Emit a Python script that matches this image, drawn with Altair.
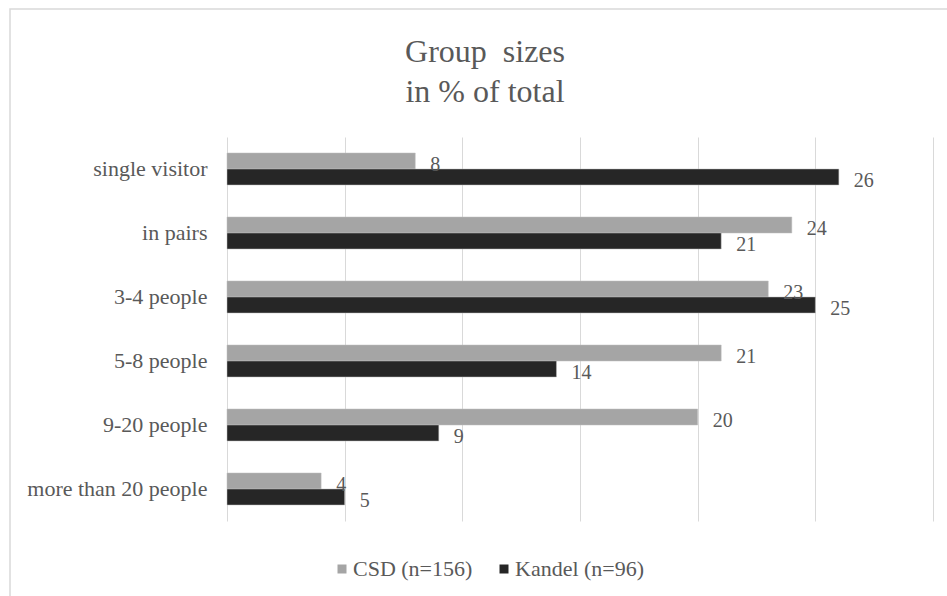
import altair as alt
import pandas as pd

categories = ["single visitor", "in pairs", "3-4 people", "5-8 people", "9-20 people", "more than 20 people"]
csd_values = [8, 24, 23, 21, 20, 4]
kandel_values = [26, 21, 25, 14, 9, 5]
series_names = ["CSD (n=156)", "Kandel (n=96)"]
series_colors = ["#a5a5a5", "#262626"]
x_ticks = [0, 5, 10, 15, 20, 25, 30]

rows = []
for c, v in zip(categories, csd_values):
    rows.append({"category": c, "series": series_names[0], "value": v})
for c, v in zip(categories, kandel_values):
    rows.append({"category": c, "series": series_names[1], "value": v})
df = pd.DataFrame(rows)

FONT = "'Liberation Serif', 'Times New Roman', Times, serif"
TXT = "#595959"

y_enc = alt.Y("category:N", sort=categories, title=None,
              scale=alt.Scale(paddingInner=0.5, paddingOuter=0.25),
              axis=alt.Axis(labelFont=FONT, labelFontSize=22, labelColor=TXT,
                            labelPadding=20, labelLimit=400,
                            ticks=False, domain=False, grid=False))
yoff = alt.YOffset("series:N", sort=series_names)
x_enc = alt.X("value:Q", title=None,
              scale=alt.Scale(domain=[0, 30], nice=False),
              axis=alt.Axis(values=x_ticks, labels=False, ticks=False, domain=False,
                            grid=True, gridColor="#d9d9d9", gridWidth=1))

base = alt.Chart(df)

bars = base.mark_bar(stroke="#bfbfbf", strokeWidth=0.5).encode(
    y=y_enc,
    yOffset=yoff,
    x=x_enc,
    color=alt.Color("series:N",
                    scale=alt.Scale(domain=series_names, range=series_colors),
                    legend=alt.Legend(title=None, orient="none", direction="horizontal",
                                      legendX=104, legendY=421,
                                      symbolType="square", symbolSize=81,
                                      symbolStrokeWidth=0,
                                      labelFont=FONT, labelFontSize=22, labelColor=TXT,
                                      labelOffset=0, columnPadding=20)),
)

labels = base.mark_text(align="left", baseline="middle", dx=15, dy=4,
                        font=FONT, fontSize=20, color=TXT).encode(
    y=alt.Y("category:N", sort=categories),
    yOffset=yoff,
    x=alt.X("value:Q"),
    text=alt.Text("value:Q"),
)

frame = alt.Chart(pd.DataFrame({"a": [0]})).mark_rect(
    fill=None, stroke="#d9d9d9", strokeWidth=1.5
).encode(
    x=alt.value(-217), x2=alt.value(760),
    y=alt.value(-128), y2=alt.value(480),
)

chart = alt.layer(frame, bars, labels).properties(
    width=706, height=384,
    title=alt.TitleParams(["Group\u00a0 sizes", "in % of total"], font=FONT, fontSize=32,
                          fontWeight="normal", color=TXT, anchor="middle", frame="group",
                          dx=-95, lineHeight=40, offset=-101),
    autosize=alt.AutoSizeParams(type="none"),
    padding={"left": 227, "top": 137, "right": 14, "bottom": 75},
).configure(background="white").configure_view(stroke="transparent", strokeWidth=0)

chart.save("out.html", embed_options={"renderer": "svg", "actions": False})
